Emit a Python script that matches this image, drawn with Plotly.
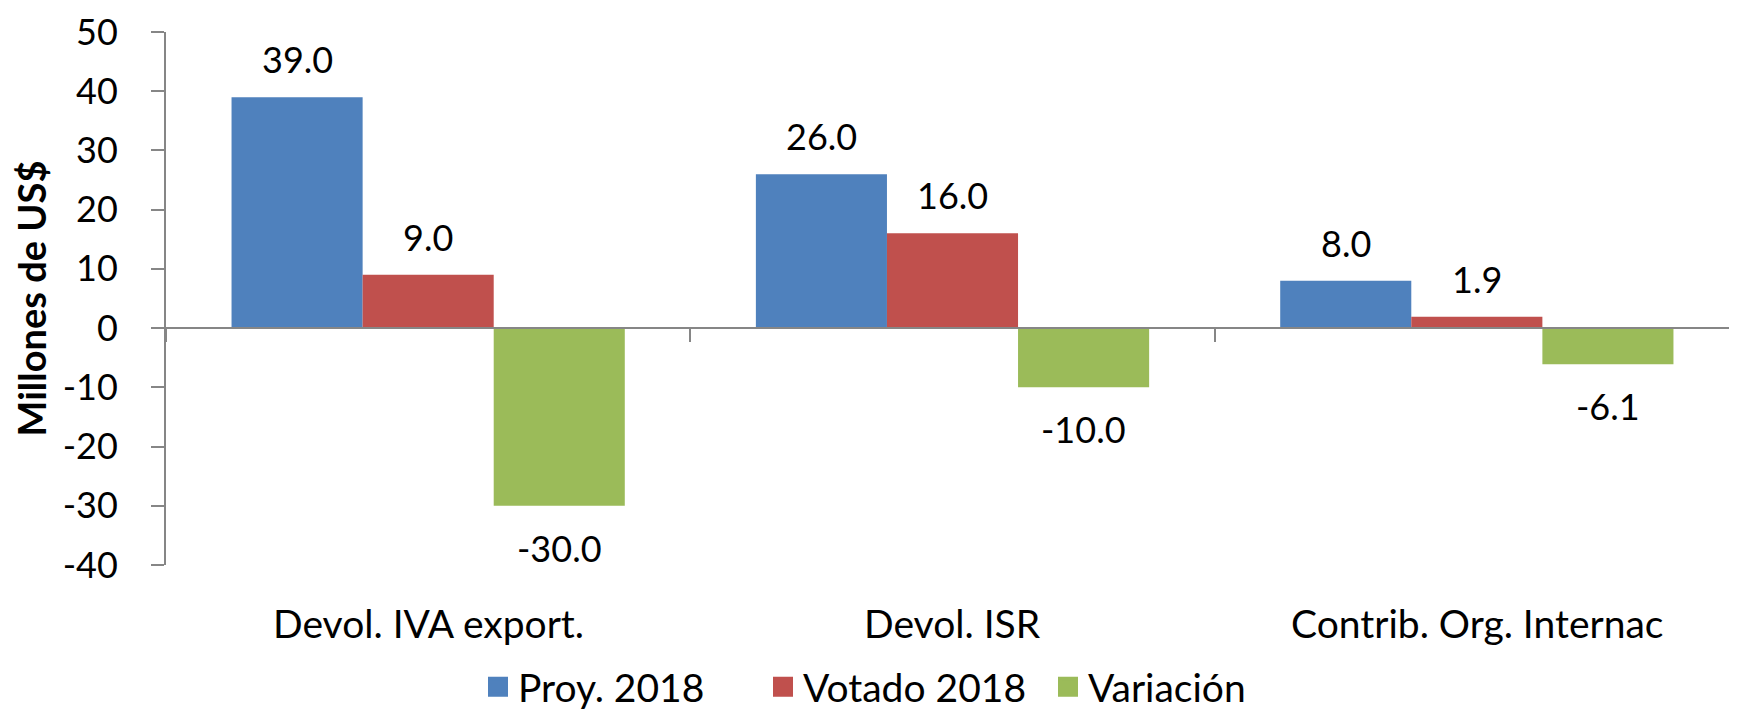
import plotly.graph_objects as go

categories = ["Devol. IVA export.", "Devol. ISR", "Contrib. Org. Internac"]
proy_2018 = [39.0, 26.0, 8.0]
votado_2018 = [9.0, 16.0, 1.9]
variacion = [-30.0, -10.0, -6.1]
y_ticks = [-40, -30, -20, -10, 0, 10, 20, 30, 40, 50]

series = [
    ("Proy. 2018", proy_2018, "#4F81BD"),
    ("Votado 2018", votado_2018, "#C0504D"),
    ("Variación", variacion, "#9BBB59"),
]

font = "Lato"
axis_grey = "#868686"

fig = go.Figure()
for name, vals, color in series:
    fig.add_trace(go.Bar(x=categories, y=vals, name=name, marker_color=color,
                         marker_line_width=0, legendgroup=name,
                         showlegend=False))
    # bigger square legend swatch than the default bar icon
    fig.add_trace(go.Scatter(x=[None], y=[None], mode="markers", name=name,
                             legendgroup=name,
                             marker=dict(symbol="square", size=16, color=color,
                                         line=dict(color=color, width=4))))

# data labels, pushed a bit away from the bar ends like in Excel
n = len(series)
bar_px = 131
for i, (name, vals, color) in enumerate(series):
    for cat, v in zip(categories, vals):
        fig.add_annotation(x=cat, y=v, text=f"{v:.1f}", showarrow=False,
                           xshift=(i - (n - 1) / 2) * bar_px,
                           yshift=38 if v >= 0 else -42,
                           font=dict(family=font, size=36, color="black"))

# category names at the bottom (the axis itself sits on y = 0)
for cat in categories:
    fig.add_annotation(x=cat, y=0, yref="paper", yanchor="middle", yshift=-58,
                       text=cat, showarrow=False,
                       font=dict(family=font, size=39, color="black"))

fig.update_layout(
    width=1737, height=709,
    margin=dict(l=158, r=6, t=24, b=152, autoexpand=False),
    plot_bgcolor="white", paper_bgcolor="white",
    barmode="group", bargap=0.25, bargroupgap=0,
    font=dict(family=font, size=36, color="black"),
    showlegend=True,
    legend=dict(orientation="h", x=(470 - 158) / 1573, xanchor="left",
                y=-(679 - 557) / 533, yanchor="middle",
                font=dict(family=font, size=39), entrywidth=240,
                itemwidth=30),
    xaxis=dict(type="category", anchor="free", position=40 / 90,
               showticklabels=False, tickson="boundaries",
               showline=True, linecolor=axis_grey, linewidth=2,
               ticks="outside", ticklen=13, tickcolor=axis_grey, tickwidth=2,
               showgrid=False, zeroline=False, automargin=False),
    yaxis=dict(range=[-40, 50], tickvals=y_ticks,
               ticktext=[str(t) for t in y_ticks],
               showgrid=False, zeroline=False, automargin=False,
               showline=True, linecolor=axis_grey, linewidth=2,
               ticks="outside", ticklen=13, tickcolor=axis_grey, tickwidth=2,
               ticklabelstandoff=26, tickfont=dict(family=font, size=36),
               title=dict(text="<b>Millones de US$</b>", standoff=20,
                          font=dict(family=font, size=38))),
)

fig.write_html("out.html")
